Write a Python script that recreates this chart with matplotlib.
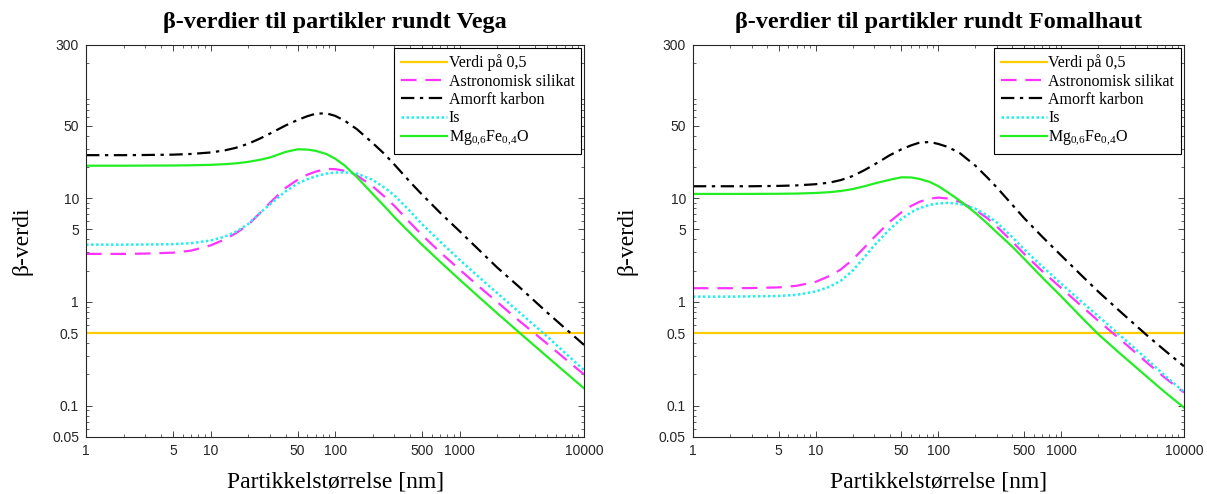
import matplotlib
matplotlib.use('Agg')
import matplotlib.pyplot as plt
from matplotlib.ticker import FixedLocator, FixedFormatter, LogLocator, NullFormatter

plt.rcParams['font.family'] = ['Liberation Serif', 'DejaVu Serif']
plt.rcParams['mathtext.fontset'] = 'custom'
plt.rcParams['mathtext.rm'] = 'Liberation Serif'
plt.rcParams['mathtext.it'] = 'Liberation Serif:italic'

# particle size [nm]
sizes = [1, 2, 3, 5, 7, 10, 13, 16, 20, 25, 30, 40, 50, 60, 70, 85, 100, 120, 150,
         200, 250, 300, 400, 500, 700, 1000, 1500, 2000, 3000, 5000, 7000, 10000]

# Vega
vega_silikat = [2.9, 2.9, 2.92, 2.98, 3.12, 3.5, 4.0, 4.6, 5.5, 7.2, 9.0, 12.5, 15.0, 16.8,
                18.0, 19.1, 19.0, 18.3, 16.5, 13.0, 10.3, 8.4, 5.8, 4.4, 3.0, 2.05, 1.34,
                1.0, 0.66, 0.40, 0.285, 0.2]
vega_karbon = [25.9, 25.9, 26.0, 26.2, 26.6, 27.5, 28.8, 30.5, 33.3, 37.5, 41.8, 50, 56.5,
               61.5, 65, 65.5, 62, 55.5, 46, 34, 26.5, 21, 14.3, 10.8, 7.2, 4.8, 3.0, 2.15,
               1.4, 0.80, 0.56, 0.385]
vega_is = [3.56, 3.56, 3.57, 3.6, 3.68, 3.9, 4.25, 4.75, 5.6, 7.2, 8.7, 11.6, 13.8, 15.2,
           16.2, 17.2, 17.6, 17.7, 17.2, 15.0, 12.6, 10.6, 7.5, 5.6, 3.8, 2.55, 1.65, 1.22,
           0.8, 0.47, 0.325, 0.22]
vega_mgfeo = [20.5, 20.5, 20.55, 20.6, 20.7, 20.9, 21.2, 21.6, 22.3, 23.4, 24.6, 27.8, 29.5,
              29.3, 28.5, 26.6, 24.0, 20.5, 15.9, 11.0, 8.3, 6.55, 4.62, 3.55, 2.43, 1.64,
              1.06, 0.78, 0.51, 0.30, 0.212, 0.147]

# Fomalhaut
foma_silikat = [1.355, 1.355, 1.36, 1.38, 1.43, 1.56, 1.78, 2.05, 2.55, 3.35, 4.2, 5.9, 7.3,
                8.4, 9.2, 9.9, 10.1, 9.9, 9.2, 7.7, 6.4, 5.3, 3.8, 2.9, 1.98, 1.36, 0.89,
                0.66, 0.44, 0.26, 0.186, 0.134]
foma_karbon = [13.0, 13.0, 13.0, 13.1, 13.25, 13.6, 14.1, 14.9, 16.3, 18.6, 21.0, 25.8, 29.5,
               32.2, 34.2, 34.7, 33.2, 31.0, 27.0, 20.5, 15.8, 12.6, 8.6, 6.4, 4.25, 2.8,
               1.75, 1.26, 0.815, 0.476, 0.34, 0.24]
foma_is = [1.124, 1.124, 1.13, 1.14, 1.17, 1.26, 1.4, 1.6, 2.0, 2.7, 3.5, 5.0, 6.3, 7.3,
           8.0, 8.6, 8.9, 9.0, 8.8, 7.9, 6.8, 5.8, 4.2, 3.2, 2.2, 1.5, 0.98, 0.73, 0.48,
           0.28, 0.195, 0.136]
foma_mgfeo = [10.96, 10.96, 10.97, 11.0, 11.05, 11.2, 11.4, 11.7, 12.2, 13.0, 13.8, 15.0,
              15.85, 15.8, 15.3, 14.3, 13.0, 11.3, 9.4, 7.2, 5.7, 4.65, 3.4, 2.6, 1.72,
              1.13, 0.69, 0.49, 0.32, 0.19, 0.135, 0.096]

grense = 0.5

xticks = [1, 5, 10, 50, 100, 500, 1000, 10000]
xticklabels = ['1', '5', '10', '50', '100', '500', '1000', '10000']
yticks = [0.05, 0.1, 0.5, 1, 5, 10, 50, 300]
yticklabels = ['0.05', '0.1', '0.5', '1', '5', '10', '50', '300']

titles = ['β-verdier til partikler rundt Vega', 'β-verdier til partikler rundt Fomalhaut']
labels = ['Verdi på 0,5', 'Astronomisk silikat', 'Amorft karbon', 'Is',
          r'Mg$_{\mathrm{0{,}6}}$Fe$_{\mathrm{0{,}4}}$O']

axcol = '#262626'

fig = plt.figure(figsize=(12.07, 4.94), dpi=100)
ax1 = fig.add_axes([0.0713, 0.1154, 0.4126, 0.7941])
ax2 = fig.add_axes([0.5741, 0.1154, 0.4068, 0.7941])

data = [(ax1, vega_silikat, vega_karbon, vega_is, vega_mgfeo, -0.107),
        (ax2, foma_silikat, foma_karbon, foma_is, foma_mgfeo, -0.112)]

for i, (ax, sil, karb, isv, mg, ylx) in enumerate(data):
    ax.plot([sizes[0], sizes[-1]], [grense, grense], color='#FFCC00', lw=1.6)
    ax.plot(sizes, sil, color='#FF33FF', lw=1.6, linestyle=(0, (7, 4)))
    ax.plot(sizes, karb, color='black', lw=1.6, linestyle=(0, (6, 2.5, 1.5, 2.5)))
    ax.plot(sizes, isv, color='#22EEEE', lw=1.8, linestyle=(0, (1, 1)))
    ax.plot(sizes, mg, color='#22EE22', lw=1.6)

    ax.set_xscale('log')
    ax.set_yscale('log')
    ax.set_xlim(1, 10000)
    ax.set_ylim(0.05, 300)

    ax.xaxis.set_major_locator(FixedLocator(xticks))
    ax.xaxis.set_major_formatter(FixedFormatter(xticklabels))
    ax.yaxis.set_major_locator(FixedLocator(yticks))
    ax.yaxis.set_major_formatter(FixedFormatter(yticklabels))
    ax.xaxis.set_minor_locator(LogLocator(base=10, subs=range(2, 10), numticks=20))
    ax.yaxis.set_minor_locator(LogLocator(base=10, subs=range(2, 10), numticks=20))
    ax.xaxis.set_minor_formatter(NullFormatter())
    ax.yaxis.set_minor_formatter(NullFormatter())

    ax.tick_params(which='both', direction='in', top=True, right=True,
                   colors=axcol, labelsize=10, labelfontfamily='Liberation Sans')
    ax.tick_params(which='major', length=4, width=0.6, pad=5)
    ax.tick_params(which='minor', length=2.2, width=0.5)
    for sp in ax.spines.values():
        sp.set_color(axcol)
        sp.set_linewidth(0.8)

    ax.set_title(titles[i], fontsize=17.5, fontweight='bold', pad=12)
    ax.set_xlabel('Partikkelstørrelse [nm]', fontsize=17)
    ax.set_ylabel('β-verdi', fontsize=17)
    ax.xaxis.set_label_coords(0.5, -0.088)
    ax.yaxis.set_label_coords(ylx, 0.5)

    leg = ax.legend(labels, loc='upper right', fontsize=11.5, frameon=True, fancybox=False,
                    edgecolor='black', framealpha=1, borderaxespad=0.2,
                    handlelength=2.9, handletextpad=0.1, labelspacing=0.15,
                    borderpad=0.4)
    leg.get_frame().set_linewidth(0.8)

fig.savefig('out.png', dpi=100)
